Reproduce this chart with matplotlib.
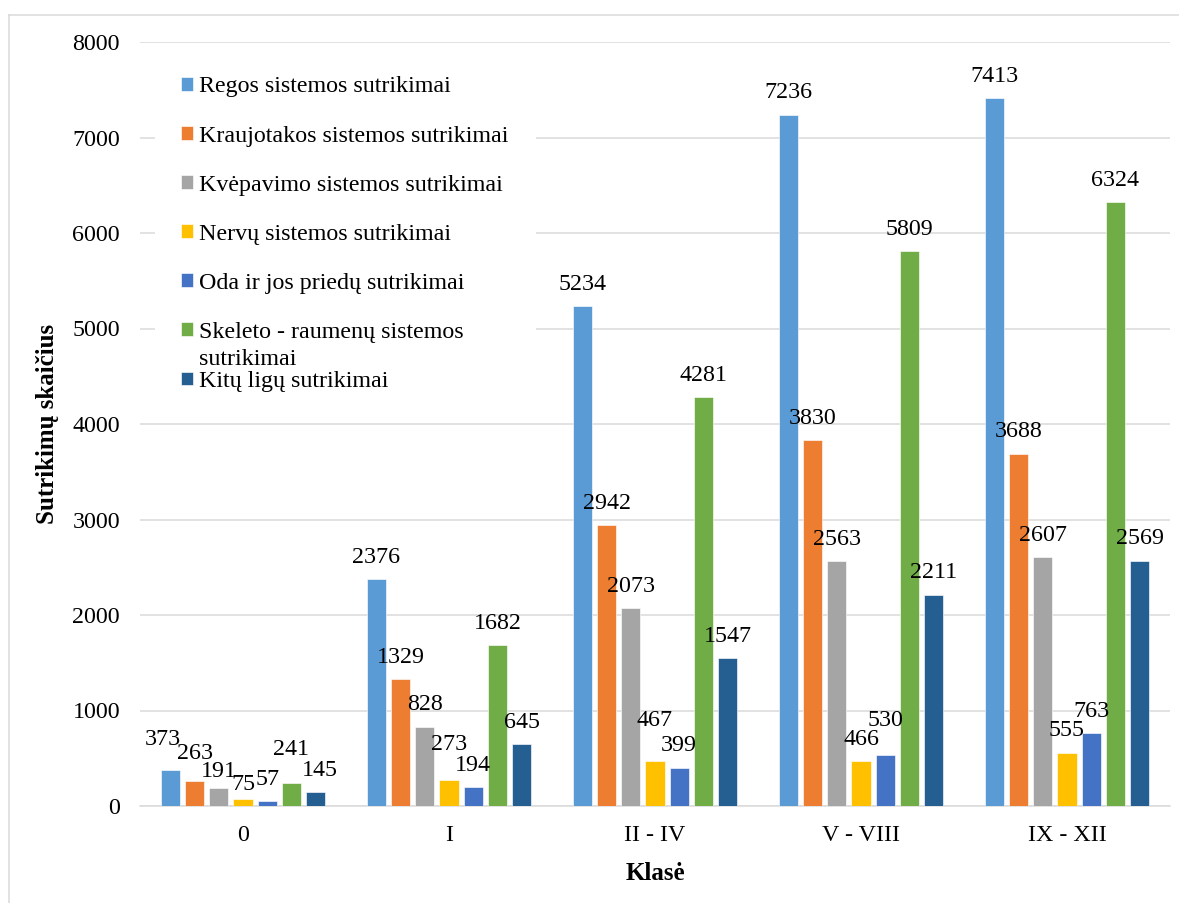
import numpy as np
import matplotlib.pyplot as plt
from matplotlib.lines import Line2D

plt.rcParams['font.family'] = ['Liberation Serif', 'DejaVu Serif']

klases = ['0', 'I', 'II - IV', 'V - VIII', 'IX - XII']
serijos = ['Regos sistemos sutrikimai',
           'Kraujotakos sistemos sutrikimai',
           'Kvėpavimo sistemos sutrikimai',
           'Nervų sistemos sutrikimai',
           'Oda ir jos priedų sutrikimai',
           'Skeleto - raumenų sistemos',
           'Kitų ligų sutrikimai']
tesinys = 'sutrikimai'  # antra "Skeleto - raumenų sistemos" eilutė
regos = [373, 2376, 5234, 7236, 7413]
kraujotakos = [263, 1329, 2942, 3830, 3688]
kvepavimo = [191, 828, 2073, 2563, 2607]
nervu = [75, 273, 467, 466, 555]
oda = [57, 194, 399, 530, 763]
skeleto = [241, 1682, 4281, 5809, 6324]
kitu = [145, 645, 1547, 2211, 2569]
reiksmes = [regos, kraujotakos, kvepavimo, nervu, oda, skeleto, kitu]
spalvos = ['#5B9BD5', '#ED7D31', '#A5A5A5', '#FFC000', '#4472C4', '#70AD47', '#255E91']

# kai kurių etikečių poslinkiai (serija, klasė) -> (dx, dy) taškais
poslinkiai = {(0, 0): (-8, 9), (1, 0): (0, 5), (2, 0): (0, -6), (3, 0): (0, -8),
              (4, 0): (0, -1), (5, 0): (0, 11), (6, 0): (4, 0),
              (3, 1): (0, 13), (3, 2): (0, 19), (4, 3): (0, 13)}

W, H, DPI = 1179, 903, 72
fig = plt.figure(figsize=(W / DPI, H / DPI), dpi=DPI)
ax = fig.add_axes([140 / W, 1 - 806 / H, (1170 - 140) / W, (806 - 42) / H])

# rėmelis aplink diagramą
fig.add_artist(Line2D([9.5 / W, 9.5 / W], [0, 1 - 14.5 / H], color='#D9D9D9', lw=1.5))
fig.add_artist(Line2D([9.5 / W, 1], [1 - 14.5 / H, 1 - 14.5 / H], color='#D9D9D9', lw=1.5))

x = np.arange(len(klases))
zingsnis = 0.1175
plotis = 0.094
for i, (vals, sp, pav) in enumerate(zip(reiksmes, spalvos, serijos)):
    pos = x + (i - 3) * zingsnis
    ax.bar(pos, vals, width=plotis, color=sp, edgecolor='white', linewidth=0.6,
           label=pav, zorder=3)
    for j, (px, v) in enumerate(zip(pos, vals)):
        dx, dy = poslinkiai.get((i, j), (0, 0))
        ax.annotate(str(v), (px, v), xytext=(dx, 22 + dy), textcoords='offset points',
                    ha='center', va='center', fontsize=24, color='black', zorder=5)

ax.set_xlim(-0.5, 4.5)
ax.set_ylim(0, 8000)
ax.set_yticks(range(0, 8001, 1000))
ax.set_xticks(x)
ax.set_xticklabels(klases)
ax.tick_params(axis='both', length=0, labelsize=24)
ax.tick_params(axis='y', pad=20)
ax.tick_params(axis='x', pad=19)
ax.grid(axis='y', color='#D9D9D9', linewidth=1.5, zorder=0)
ax.set_axisbelow(True)
for s in ['top', 'right', 'left']:
    ax.spines[s].set_visible(False)
ax.spines['bottom'].set_color('#D9D9D9')
ax.spines['bottom'].set_linewidth(1.5)

ax.set_ylabel('Sutrikimų skaičius', fontsize=25, fontweight='bold', labelpad=13)
ax.set_xlabel('Klasė', fontsize=25, fontweight='bold', labelpad=16)

leg = ax.legend(loc='upper left', bbox_to_anchor=(0.0146, 0.9895), fontsize=24,
                frameon=True, framealpha=1, edgecolor='white', fancybox=False,
                handlelength=0.5, handleheight=0.5, handletextpad=0.25,
                labelspacing=1.17, borderpad=1.1, borderaxespad=0)
leg.set_zorder(4)

# antroji skeleto eilutės dalis po legendos įrašu
fig.canvas.draw()
bb = leg.get_texts()[5].get_window_extent()
fig.text(bb.x0 / W, (bb.y0 + bb.y1) / 2 / H - 27 / H, tesinys, fontsize=24,
         ha='left', va='center', zorder=6)

fig.savefig('out.png', dpi=DPI)
